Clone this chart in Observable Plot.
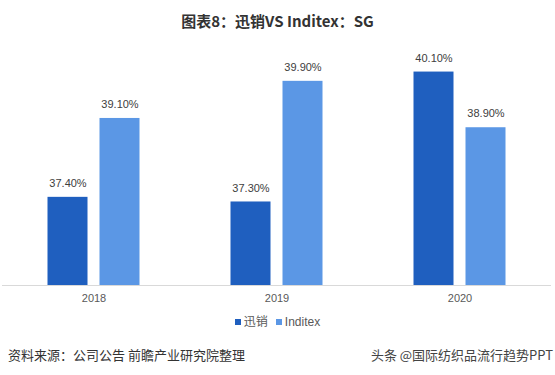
<!DOCTYPE html>
<html>
<head>
<meta charset="utf-8">
<script src="https://cdn.jsdelivr.net/npm/d3@7"></script>
<script src="https://cdn.jsdelivr.net/npm/@observablehq/plot@0.6"></script>
<style>
  html, body { margin: 0; padding: 0; background: #fff; }
  body { width: 555px; height: 375px; position: relative; overflow: hidden;
         font-family: "Liberation Sans", "Noto Sans CJK SC", sans-serif; }
  #title { position: absolute; top: 1px; left: 0; width: 555px; height: 40px; line-height: 40px;
           text-align: center; font-weight: bold; font-size: 15px; color: #333;
           font-family: "Noto Sans CJK SC", "Liberation Sans", sans-serif; }
  #chart { position: absolute; top: 42px; left: 0; }
  #legend { position: absolute; top: 313px; left: 0; width: 555px; text-align: center;
            font-size: 12px; color: #595959; line-height: 18px; }
  #legend span.item { margin: 0 4px; }
  #legend span.sw { display: inline-block; width: 6px; height: 6px; margin-right: 3px; vertical-align: 1px; }
  #source { position: absolute; left: 8px; top: 345px; font-size: 13px; color: #333;
            font-family: "Noto Sans CJK SC", sans-serif; }
  #mark { position: absolute; right: 2px; top: 345px; font-size: 13px; color: #444;
          font-family: "Noto Sans CJK SC", sans-serif; }
</style>
</head>
<body>
<div id="title">图表8：迅销VS Inditex：SG</div>
<div id="chart"></div>
<div id="legend"></div>
<div id="source">资料来源：公司公告 前瞻产业研究院整理</div>
<div id="mark">头条 @国际纺织品流行趋势PPT</div>
<script>
const years = ["2018", "2019", "2020"];
const seriesNames = ["迅销", "Inditex"];
const fastRetailing = [37.4, 37.3, 40.1];
const inditex = [39.1, 39.9, 38.9];
const colors = ["#1F5FBF", "#5B97E5"];

const data = [];
years.forEach((yr, i) => {
  data.push({year: yr, series: seriesNames[0], value: fastRetailing[i]});
  data.push({year: yr, series: seriesNames[1], value: inditex[i]});
});

const chart = Plot.plot({
  width: 555,
  height: 270,
  marginTop: 11,
  marginBottom: 27,
  marginLeft: 1.5,
  marginRight: 4.5,
  style: {fontFamily: '"Liberation Sans", "Noto Sans CJK SC", sans-serif', fontSize: "11px", color: "#595959", background: "#fff"},
  fx: {domain: years, paddingInner: 0, paddingOuter: 0, label: null, axis: "bottom", tickSize: 0, tickPadding: 9},
  x: {domain: seriesNames, paddingInner: 0.2264, paddingOuter: 0.84, axis: null},
  y: {domain: [35.5, 40.5], axis: null},
  color: {domain: seriesNames, range: colors},
  marks: [
    Plot.ruleY([35.5], {stroke: "#D9D9D9", strokeWidth: 1}),
    Plot.barY(data, {fx: "year", x: "series", y1: 35.5, y2: "value", fill: "series"}),
    Plot.text(data, {fx: "year", x: "series", y: "value", text: d => d.value.toFixed(2) + "%",
                     dy: -14, fill: "#404040", fontSize: 11})
  ]
});
document.getElementById("chart").appendChild(chart);

const legend = document.getElementById("legend");
seriesNames.forEach((n, i) => {
  const item = document.createElement("span");
  item.className = "item";
  item.innerHTML = `<span class="sw" style="background:${colors[i]}"></span>${n}`;
  legend.appendChild(item);
});
</script>
</body>
</html>
